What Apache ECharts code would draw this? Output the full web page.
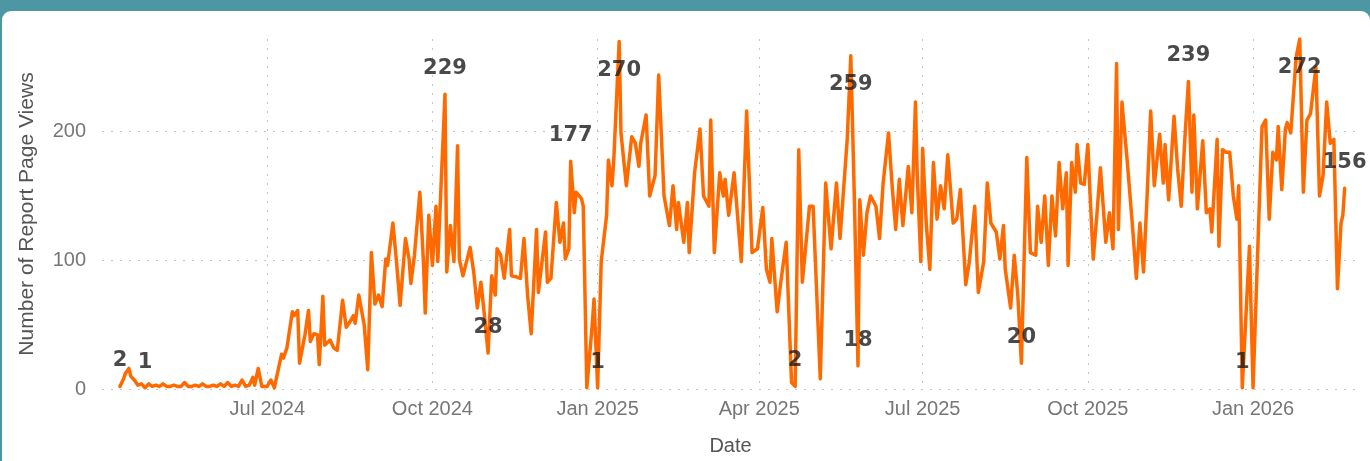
<!DOCTYPE html>
<html><head><meta charset="utf-8">
<script src="https://cdn.jsdelivr.net/npm/echarts@6/dist/echarts.min.js"></script>
<style>
html,body{margin:0;padding:0;width:1370px;height:461px;overflow:hidden;background:#4d97a4;}
#panel{position:absolute;left:2px;top:11px;width:1368px;height:450px;background:#fff;border-radius:9px 9px 0 0;}
#chart{position:absolute;left:0;top:0;width:1370px;height:461px;}
</style></head><body>
<div id="panel"></div><div id="chart"></div>
<script>
// Day offsets are counted from 2024-04-10 (first day with data).
const startDate = [2024, 3, 10];
const months = ['Jan','Feb','Mar','Apr','May','Jun','Jul','Aug','Sep','Oct','Nov','Dec'];

// [dayOffset, page views]
const views2024Q2 = [[0,2],[2,8],[3,12],[5,16],[6,10],[8,7],[10,3],[12,4],[14,1],[16,4],[18,2],[20,3],[22,2],[24,4],[26,2],[28,2],[30,3],[32,2],[34,2],[36,5],[38,2],[40,2],[42,3],[44,2],[46,4],[48,2],[50,2],[52,3],[54,2],[56,4],[58,2],[60,5],[62,2],[64,3],[66,2],[68,7],[70,2],[72,3],[74,9],[75,3],[77,16],[79,2]];
const views2024Q3 = [[82,2],[84,7],[86,1],[88,14],[90,27],[91,24],[93,32],[96,60],[97,57],[99,61],[100,20],[103,42],[105,61],[106,37],[108,43],[110,42],[111,19],[113,72],[114,34],[117,38],[119,32],[121,30],[124,69],[126,48],[128,52],[130,57],[131,51],[133,73],[136,50],[138,15],[140,106],[142,66],[144,73],[146,64],[148,101],[149,96],[152,129],[154,99],[156,65],[159,117],[161,101],[162,82],[164,104],[167,153],[169,99],[170,59],[172,135]];
const views2024Q4 = [[174,96],[176,142],[177,99],[181,229],[182,91],[184,127],[186,99],[188,189],[189,101],[191,88],[193,99],[195,110],[197,91],[199,63],[201,83],[203,57],[205,28],[207,88],[209,73],[210,109],[212,104],[214,86],[217,124],[218,88],[221,87],[223,86],[225,117],[227,73],[229,43],[232,124],[233,75],[237,122],[238,83],[240,86],[243,145],[245,114],[247,129],[248,101],[250,109],[251,177],[253,137],[254,153],[257,148],[258,142],[260,1],[263,50],[264,70]];
const views2025Q1 = [[266,1],[268,99],[271,135],[272,178],[274,158],[275,178],[278,270],[279,199],[282,158],[285,196],[287,191],[289,173],[290,191],[293,213],[295,150],[298,166],[300,244],[303,150],[306,127],[308,158],[310,124],[311,145],[314,114],[316,145],[317,106],[320,168],[323,202],[325,150],[328,142],[329,209],[331,106],[334,168],[336,150],[337,163],[339,135],[342,168],[343,169],[346,99],[349,216],[352,106],[355,109]];
const views2025Q2 = [[358,141],[360,93],[362,83],[363,117],[366,60],[368,83],[371,114],[374,5],[376,2],[377,1],[378,186],[380,83],[381,83],[384,142],[386,142],[390,8],[393,160],[396,109],[399,160],[401,117],[405,194],[407,259],[409,147],[411,18],[412,147],[414,104],[416,137],[418,150],[421,142],[423,117],[425,160],[428,199],[430,158],[432,124],[434,163],[436,127],[439,173],[441,137],[443,223],[444,166],[446,99]];
const views2025Q3 = [[447,187],[449,129],[451,93],[453,176],[455,132],[457,158],[459,140],[461,182],[464,129],[466,132],[468,155],[470,106],[471,81],[473,99],[476,142],[478,75],[481,99],[483,160],[485,129],[488,122],[490,101],[492,127],[493,93],[496,63],[498,104],[500,73],[502,20],[505,180],[507,106],[510,104],[511,142],[513,114],[515,150],[517,96],[519,150],[521,119],[523,176],[525,140],[527,168],[528,96],[530,176],[532,153],[533,190],[535,160],[537,159]];
const views2025Q4 = [[539,190],[540,158],[542,101],[544,135],[546,172],[549,114],[551,137],[553,109],[555,253],[556,124],[558,223],[561,176],[564,124],[566,86],[568,129],[570,91],[572,150],[574,216],[576,158],[579,198],[581,160],[582,190],[584,147],[587,212],[589,171],[591,142],[593,194],[595,239],[597,153],[598,213],[600,140],[603,193],[605,137],[607,140],[608,122],[611,194],[612,111],[614,186],[616,184],[618,184],[620,150],[622,132],[623,158],[625,1],[629,111]];
const views2026Q1 = [[631,1],[634,124],[636,204],[638,209],[640,132],[642,184],[644,178],[645,204],[647,155],[649,202],[650,207],[652,199],[655,258],[657,272],[659,153],[661,209],[663,214],[666,250],[668,150],[670,166],[672,223],[674,191],[676,194],[678,78],[680,129],[681,135],[682,156]];

// day offsets of the points that carry a data label
const labelOffsets = [0,14,181,205,251,266,278,376,407,411,502,595,625,657,682];

const padBefore = 10, padAfter = 8, lastOffset = 682;
const categories = [];
for (let i = -padBefore; i <= lastOffset + padAfter; i++) {
  const d = new Date(Date.UTC(startDate[0], startDate[1], startDate[2] + i));
  categories.push(d.toISOString().slice(0, 10));
}
const values = categories.map(() => null);
[].concat(views2024Q2, views2024Q3, views2024Q4, views2025Q1, views2025Q2, views2025Q3, views2025Q4, views2026Q1)
  .forEach(([o, v]) => { values[o + padBefore] = v; });

const labelData = labelOffsets.map(o => {
  const v = values[o + padBefore];
  const below = v > 250;
  return { value: [o + padBefore, v], label: { position: below ? 'bottom' : 'top', distance: below ? 18 : 15 } };
});

const quarterStart = (i, val) => i > padBefore && /-(01|04|07|10)-01$/.test(val);
const fmtDate = val => { const p = val.split('-'); return months[+p[1] - 1] + ' ' + p[0]; };

const chart = echarts.init(document.getElementById('chart'), null, { renderer: 'canvas' });
chart.setOption({
  animation: false,
  grid: { left: 102, top: 39, width: 1257, bottom: 68, containLabel: false },
  xAxis: {
    type: 'category', data: categories, boundaryGap: false,
    axisLine: { show: false }, axisTick: { show: false },
    axisLabel: { interval: quarterStart, formatter: fmtDate, color: '#777', fontSize: 20, fontFamily: 'Liberation Sans', margin: 10 },
    splitLine: { show: true, interval: quarterStart, lineStyle: { color: '#c6c6c6', type: [2, 7], width: 1 } },
    name: 'Date', nameLocation: 'middle', nameGap: 47,
    nameTextStyle: { color: '#555', fontSize: 20, fontFamily: 'Liberation Sans' }
  },
  yAxis: {
    type: 'value', min: 0, max: 272, interval: 100,
    axisLine: { show: false }, axisTick: { show: false },
    axisLabel: { showMaxLabel: false, color: '#777', fontSize: 20, fontFamily: 'Liberation Sans', margin: 16 },
    splitLine: { showMaxLine: false, lineStyle: { color: '#c6c6c6', type: [2, 7], width: 1 } },
    name: 'Number of Report Page Views', nameLocation: 'middle', nameGap: 64,
    nameTextStyle: { color: '#555', fontSize: 21, fontFamily: 'Liberation Sans' }
  },
  series: [
    {
      type: 'line', data: values, connectNulls: true, showSymbol: false, silent: true,
      lineStyle: { width: 3.5, color: '#FF6A00', join: 'round', cap: 'round' },
      itemStyle: { color: '#FF6A00' }
    },
    {
      type: 'scatter', data: labelData, symbolSize: 0, silent: true, z: 5,
      label: { show: true, formatter: p => String(p.value[1]), fontFamily: 'DejaVu Sans', fontWeight: 'bold', fontSize: 21, color: '#1c1c1c' }
    }
  ]
});
</script></body></html>
